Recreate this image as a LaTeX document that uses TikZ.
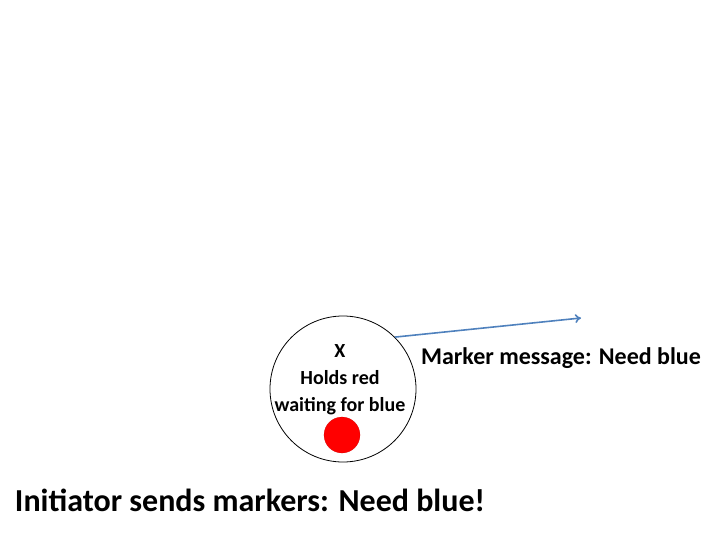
\documentclass[tikz,border=0pt]{standalone}
\usepackage{fontspec}
\setmainfont{Carlito}
\usepackage{tikz}
\usetikzlibrary{arrows.meta}
\definecolor{msgblue}{HTML}{4F81BD}
\tikzstyle{proc} = [circle, draw = black, line width = 0.8pt, inner sep = 0pt, minimum size = 146pt]
\tikzstyle{token} = [circle, fill = red, draw = red!80!black, very thin, inner sep = 0pt, minimum size = 36pt]
\tikzstyle{msg} = [draw = msgblue, line width = 1.6pt, -{To[length=6pt,width=9pt]}]
\tikzstyle{txt} = [font = \bfseries\fontsize{20}{27}\selectfont, align = center, inner sep = 0pt]

\begin{document}
\begin{tikzpicture}[x = 1pt, y = -1pt]
    \useasboundingbox (0, 0) rectangle (720, 540);
    \node (P) at (343, 389) [proc] {};
    \node (Plabel) at (340, 380) [txt] {X\\Holds red\\waiting for blue};
    \node (R) at (342, 435) [token] {};
    \coordinate (M) at (581, 318);
    \draw [msg] (P.45) -- (M);
    \node (Mlabel) at (561, 358) [txt, font = \bfseries\fontsize{24}{28}\selectfont] {Marker message: Need blue};
    \node (T) at (250, 500) [txt, font = \bfseries\fontsize{32}{36}\selectfont] {Initiator sends markers: Need blue!};
\end{tikzpicture}
\end{document}
